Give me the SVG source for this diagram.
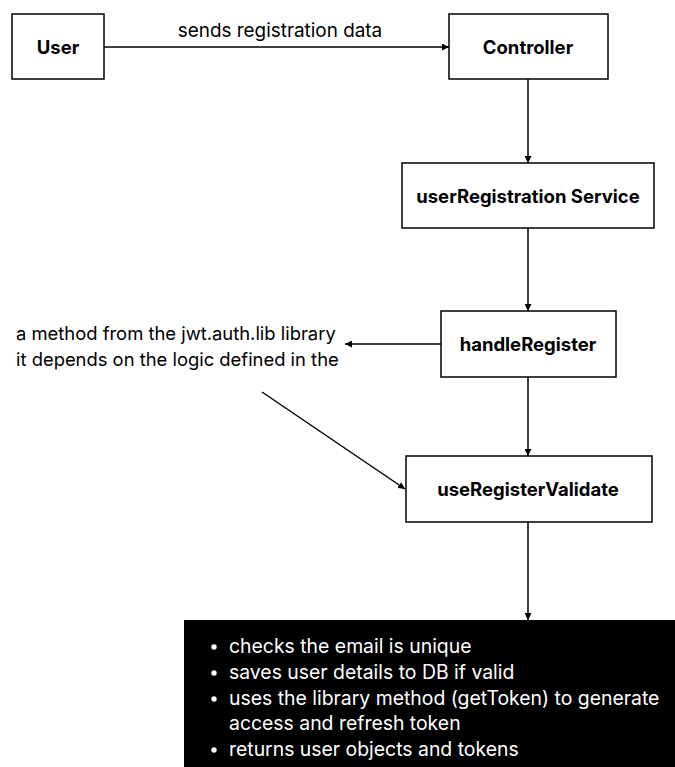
<svg xmlns="http://www.w3.org/2000/svg" width="675" height="767" viewBox="0 0 675 767">
  <style>
    .box { fill: #ffffff; stroke: #000000; stroke-width: 1.5; }
    .label { font-family: Inter, "Liberation Sans", sans-serif; font-weight: 700; font-size: 18.5px; fill: #000000; text-anchor: middle; dominant-baseline: central; }
    .note { font-family: Inter, "Liberation Sans", sans-serif; font-size: 18.4px; fill: #000000; }
    .bullet { font-family: Inter, "Liberation Sans", sans-serif; font-size: 19.4px; fill: #ffffff; }
    .edge { stroke: #000000; stroke-width: 1.5; fill: none; marker-end: url(#arrow); }
  </style>
  <defs>
    <marker id="arrow" viewBox="0 0 10 10" refX="10" refY="5" markerWidth="7" markerHeight="7" markerUnits="userSpaceOnUse" orient="auto">
      <path d="M0,0 L10,5 L0,10 z" fill="#000000"/>
    </marker>
  </defs>
  <rect width="675" height="767" fill="#ffffff"/>

  <g id="connectors">
    <line class="edge" x1="104" y1="47" x2="449" y2="47"/>
    <line class="edge" x1="528" y1="79" x2="528" y2="163"/>
    <line class="edge" x1="528" y1="228" x2="528" y2="311"/>
    <line class="edge" x1="441" y1="344" x2="345" y2="344"/>
    <line class="edge" x1="528" y1="377" x2="528" y2="456"/>
    <line class="edge" x1="262" y1="392" x2="405" y2="489"/>
    <line class="edge" x1="528" y1="522" x2="528" y2="620"/>
    <text class="note" x="280" y="37" text-anchor="middle" style="font-size:18.9px">sends registration data</text>
  </g>

  <g id="user">
    <rect class="box" x="12" y="14" width="92" height="65"/>
    <text class="label" x="58" y="47">User</text>
  </g>

  <g id="controller">
    <rect class="box" x="449" y="14" width="159" height="65"/>
    <text class="label" x="528" y="47">Controller</text>
  </g>

  <g id="user-registration-service">
    <rect class="box" x="402" y="163" width="252" height="65"/>
    <text class="label" x="528" y="196">userRegistration Service</text>
  </g>

  <g id="handle-register">
    <rect class="box" x="441" y="311" width="175" height="66"/>
    <text class="label" x="528" y="344">handleRegister</text>
  </g>

  <g id="library-note">
    <text class="note" x="16" y="340">a method from the jwt.auth.lib library</text>
    <text class="note" x="16" y="366">it depends on the logic defined in the</text>
  </g>

  <g id="use-register-validate">
    <rect class="box" x="406" y="456" width="246" height="66"/>
    <text class="label" x="528" y="489">useRegisterValidate</text>
  </g>

  <g id="result-panel">
    <rect x="184" y="620" width="491" height="147" fill="#000000"/>
    <g class="bullet">
      <circle cx="214" cy="647" r="2.7" fill="#ffffff"/>
      <text x="229" y="653">checks the email is unique</text>
      <circle cx="214" cy="673" r="2.7" fill="#ffffff"/>
      <text x="229" y="679">saves user details to DB if valid</text>
      <circle cx="214" cy="699" r="2.7" fill="#ffffff"/>
      <text x="229" y="705">uses the library method (getToken) to generate</text>
      <text x="229" y="730">access and refresh token</text>
      <circle cx="214" cy="750" r="2.7" fill="#ffffff"/>
      <text x="229" y="756">returns user objects and tokens</text>
    </g>
  </g>
</svg>
